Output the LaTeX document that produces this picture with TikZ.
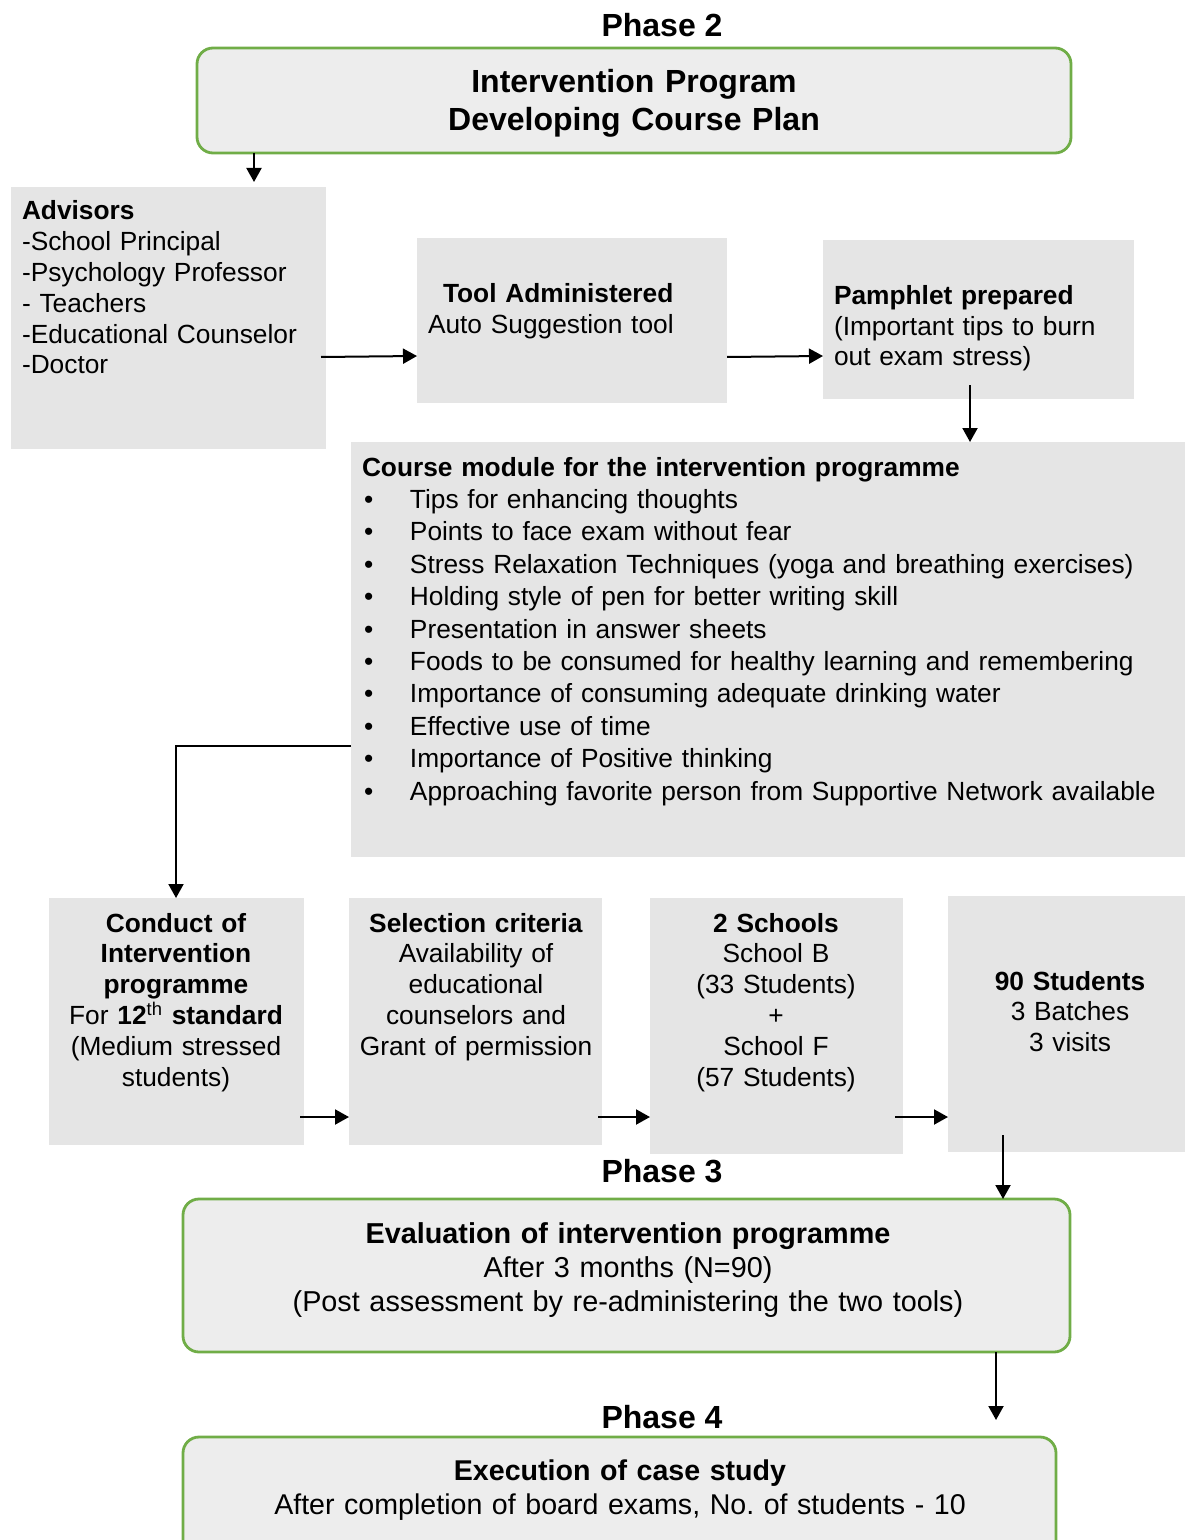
\documentclass[tikz,border=0pt]{standalone}
\usepackage{fontspec}
\setmainfont{Liberation Sans}
\usetikzlibrary{arrows.meta}
\definecolor{boxgrey}{HTML}{E5E5E5}
\definecolor{phasefill}{HTML}{EDEDED}
\definecolor{phasegreen}{HTML}{70AD47}
\newcommand{\bul}{\makebox[24pt][l]{\hspace{1pt}•}}
\begin{document}
\begin{tikzpicture}[x=0.5pt, y=-0.5pt, line width=1pt, >={Triangle[length=7pt,width=7.5pt]},
grey box/.style={fill=boxgrey, inner sep=0pt, outer sep=0pt, anchor=north west},
phase box/.style={fill=phasefill, draw=phasegreen, line width=1.4pt, rounded corners=8pt, inner sep=0pt, outer sep=0pt, anchor=north west},
phase label/.style={inner sep=0pt, anchor=base, font=\fontsize{16}{19}\selectfont\bfseries},
left text/.style={inner sep=0pt, anchor=base west, text width=#1, align=left, font=\fontsize{13.15}{15.4}\selectfont},
mid text/.style={inner sep=0pt, anchor=base, text width=#1, align=center, font=\fontsize{13.15}{15.4}\selectfont}]
\useasboundingbox (0,0) rectangle (1184,1540);
\begin{scope}
\node[phase label] (ph2) at (662,37) {Phase 2};
\node[phase box, minimum width=437pt, minimum height=52.5pt] (plan) at (197,48) {};
\node[mid text=420pt, font=\fontsize{16}{19}\selectfont\bfseries] (planT) at (634,93) {Intervention Program\\Developing Course Plan};
\node[grey box, minimum width=157.5pt, minimum height=131pt] (advisors) at (11,187) {};
\node[left text=155pt] (advisorsT) at (21,220) {\textbf{Advisors}\\-School Principal\\-Psychology Professor\\- Teachers\\-Educational Counselor\\-Doctor};
\node[grey box, minimum width=155pt, minimum height=82.5pt] (tool) at (417,238) {};
\node[left text=152pt] (toolT) at (427,303) {\hspace*{7.5pt}\textbf{Tool Administered}\\Auto Suggestion tool};
\node[grey box, minimum width=155.5pt, minimum height=79.5pt] (pamphlet) at (823,240) {};
\node[left text=152pt, font=\fontsize{13.15}{15.25}\selectfont] (pamphletT) at (833,305) {\textbf{Pamphlet prepared}\\(Important tips to burn\\out exam stress)};
\node[grey box, minimum width=420.5pt, minimum height=207.5pt] (module) at (351,442) {};
\node[left text=410pt, font=\fontsize{13.15}{16.2}\selectfont] (moduleT) at (361,476) {\textbf{Course module for the intervention programme}\\
\bul Tips for enhancing thoughts\\
\bul Points to face exam without fear\\
\bul Stress Relaxation Techniques (yoga and breathing exercises)\\
\bul Holding style of pen for better writing skill\\
\bul Presentation in answer sheets\\
\bul Foods to be consumed for healthy learning and remembering\\
\bul Importance of consuming adequate drinking water\\
\bul Effective use of time\\
\bul Importance of Positive thinking\\
\bul Approaching favorite person from Supportive Network available};
\node[grey box, minimum width=127.5pt, minimum height=123.5pt] (conduct) at (49,898) {};
\node[mid text=125pt] (conductT) at (176,932) {\textbf{Conduct of}\\\textbf{Intervention}\\\textbf{programme}\\For \textbf{12}\textsuperscript{th} \textbf{standard}\\(Medium stressed\\students)};
\node[grey box, minimum width=126.5pt, minimum height=123.5pt] (selection) at (349,898) {};
\node[mid text=125pt] (selectionT) at (476,932) {\textbf{Selection criteria}\\Availability of\\educational\\counselors and\\Grant of permission};
\node[grey box, minimum width=126.5pt, minimum height=128pt] (schools) at (650,898) {};
\node[mid text=125pt] (schoolsT) at (776,932) {\textbf{2 Schools}\\School B\\(33 Students)\\+\\School F\\(57 Students)};
\node[grey box, minimum width=122pt, minimum height=128pt] (students) at (948,896) {};
\node[mid text=120pt] (studentsT) at (1070,990) {\textbf{90 Students}\\3 Batches\\3 visits};
\node[phase label] (ph3) at (662,1182) {Phase 3};
\node[phase box, minimum width=443.5pt, minimum height=76.5pt] (evaluation) at (183,1199) {};
\node[mid text=430pt, font=\fontsize{14.4}{17}\selectfont] (evaluationT) at (628,1243) {\textbf{Evaluation of intervention programme}\\After 3 months (N=90)\\(Post assessment by re-administering the two tools)};
\node[phase label] (ph4) at (662,1428) {Phase 4};
\node[phase box, minimum width=436.5pt, minimum height=65pt] (execution) at (183,1437) {};
\node[mid text=430pt, font=\fontsize{14.3}{17}\selectfont] (executionT) at (620,1480) {\textbf{Execution of case study}\\After completion of board exams, No.\ of students - 10};
\end{scope}
\begin{scope}
\draw[->] ([shift={(57,0)}]plan.south west) -- ([shift={(243,-5)}]advisors.north west);
\draw[->] ([shift={(-5,170)}]advisors.north east) -- ([shift={(0,118)}]tool.north west);
\draw[->] ([shift={(0,119)}]tool.north east) -- ([shift={(0,116)}]pamphlet.north west);
\draw[->] ([shift={(147,-14)}]pamphlet.south west) -- ([shift={(619,0)}]module.north west);
\draw[->] ([shift={(0,304)}]module.north west) -| ([shift={(127,0)}]conduct.north west);
\draw[->] ([shift={(-4,-28)}]conduct.south east) -- ([shift={(0,-28)}]selection.south west);
\draw[->] ([shift={(-4,-28)}]selection.south east) -- ([shift={(0,219)}]schools.north west);
\draw[->] ([shift={(-8,219)}]schools.north east) -- ([shift={(0,221)}]students.north west);
\draw[->] ([shift={(55,-17)}]students.south west) -- ([shift={(820,0)}]evaluation.north west);
\draw[->] ([shift={(813,0)}]evaluation.south west) -- ([shift={(813,-17)}]execution.north west);
\end{scope}
\end{tikzpicture}
\end{document}
